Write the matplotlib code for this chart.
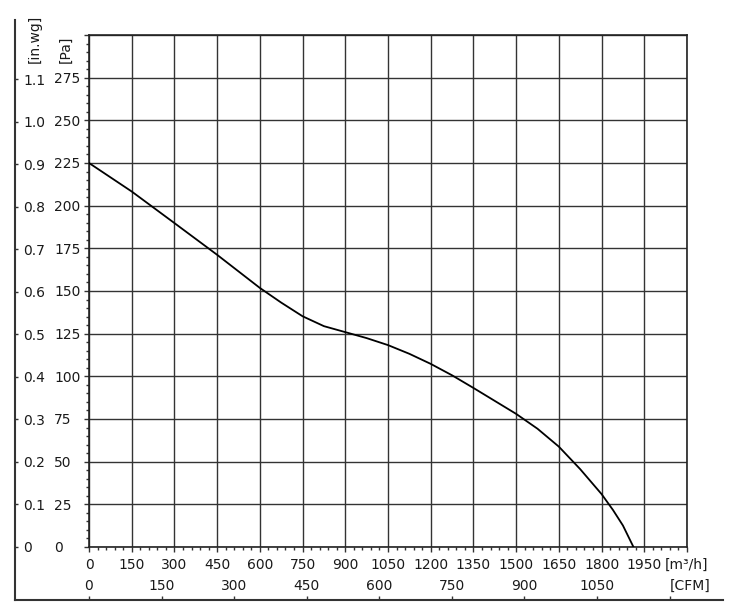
import matplotlib
matplotlib.use("Agg")
import matplotlib.pyplot as plt
from matplotlib.lines import Line2D
from matplotlib.ticker import MultipleLocator

# fan curve (m3/h, Pa)
flow = [0, 150, 300, 450, 600, 675, 750, 825, 900, 975, 1050, 1125, 1200,
        1275, 1350, 1425, 1500, 1575, 1650, 1725, 1800, 1840, 1875, 1912]
pressure = [225, 208.3, 189.8, 171.2, 151.8, 143.2, 135.2, 129.4, 125.9, 122.4, 118.3, 113.2, 107.3,
            100.6, 93.2, 85.6, 78.0, 69.3, 58.8, 45.6, 31.0, 21.7, 12.6, 0]

flow_ticks = list(range(0, 2101, 150))
flow_labels = [str(v) for v in flow_ticks[:-1]] + ["[m³/h]"]
pa_ticks = list(range(0, 301, 25))
pa_labels = [str(v) for v in pa_ticks[:-1]] + [""]
inwg_ticks = [0, 0.1, 0.2, 0.3, 0.4, 0.5, 0.6, 0.7, 0.8, 0.9, 1.0, 1.1]
inwg_labels = ["0"] + ["%.1f" % v for v in inwg_ticks[1:]]
cfm_ticks = [0, 150, 300, 450, 600, 750, 900, 1050, 1200]
cfm_labels = [str(v) for v in cfm_ticks[:-1]] + ["[CFM]"]

PA_PER_INWG = 249.09
M3H_PER_CFM = 1.699

W, H = 735, 612
TXT = "#1a1a1a"
TICK = "#333333"

plt.rcParams["font.family"] = ["DejaVu Sans"]
plt.rcParams["font.size"] = 10

fig = plt.figure(figsize=(W / 100, H / 100), dpi=100)
ax = fig.add_axes([89 / W, 1 - 547 / H, (687 - 89) / W, (547 - 35) / H])

ax.plot(flow, pressure, color="black", lw=1.3, zorder=3)

ax.set_xlim(0, 2100)
ax.set_ylim(0, 300)
ax.set_xticks(flow_ticks, flow_labels)
ax.set_yticks(pa_ticks, pa_labels)
ax.xaxis.set_minor_locator(MultipleLocator(30))
ax.yaxis.set_minor_locator(MultipleLocator(5))
ax.grid(True, which="major", color="#333333", lw=1.0)
for s in ax.spines.values():
    s.set_color("#222222")
    s.set_linewidth(1.2)

# tick lengths in points (1 pt = 1.39 px here)
ax.tick_params(axis="both", which="major", length=3.6, width=1, color=TICK, labelcolor=TXT)
ax.tick_params(axis="both", which="minor", length=2.5, width=1, color=TICK)
ax.tick_params(axis="x", which="major", pad=4.3)
ax.tick_params(axis="y", which="major", pad=21.6)
for lbl in ax.get_yticklabels():
    lbl.set_horizontalalignment("left")

# in.wg scale on the far left
sec_y = ax.secondary_yaxis((15 - 89) / 598, functions=(lambda p: p / PA_PER_INWG,
                                                      lambda w: w * PA_PER_INWG))
sec_y.set_alignment("right")
sec_y.set_yticks(inwg_ticks, inwg_labels)
sec_y.tick_params(axis="y", direction="out", length=2.5, width=1, color=TICK,
                  labelcolor=TXT, pad=3.5)
sec_y.spines["right"].set_visible(False)

# CFM scale at the bottom
sec_x = ax.secondary_xaxis((547 - 600) / 512, functions=(lambda q: q / M3H_PER_CFM,
                                                        lambda c: c * M3H_PER_CFM))
sec_x.set_alignment("top")
sec_x.set_xticks(cfm_ticks, cfm_labels)
sec_x.tick_params(axis="x", direction="out", length=2.9, width=1, color=TICK,
                  labelcolor=TXT, pad=2.2)
sec_x.get_xticklabels()[-1].set_horizontalalignment("left")
sec_x.spines["top"].set_visible(False)

# long frame lines of the outer scales
fig.add_artist(Line2D([15 / W, 15 / W], [1 - 20 / H, 1 - 600 / H], color=TICK, lw=1.5))
fig.add_artist(Line2D([15 / W, 723 / W], [1 - 600 / H, 1 - 600 / H], color=TICK, lw=1.5))

ax.text((66 - 89) / 598, (547 - 63) / 512, "[Pa]", transform=ax.transAxes, rotation=90,
        ha="center", va="bottom", color=TXT)
ax.text((35 - 89) / 598, (547 - 63) / 512, "[in.wg]", transform=ax.transAxes, rotation=90,
        ha="center", va="bottom", color=TXT)

fig.savefig("out.png", dpi=100)
